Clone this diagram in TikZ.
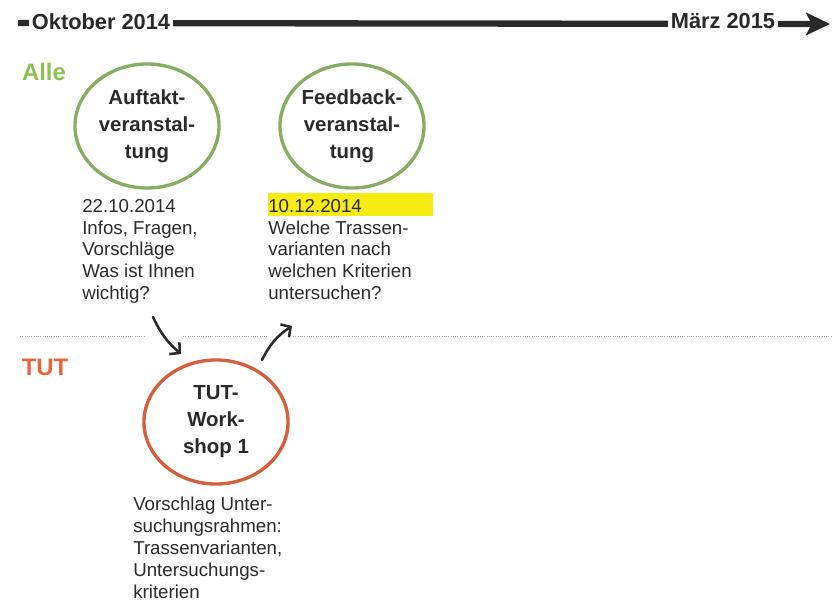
\documentclass[tikz,border=0pt]{standalone}
\usepackage{fontspec}
\setmainfont{Liberation Sans}
\usetikzlibrary{arrows.meta,shapes.geometric}
\definecolor{allegreen}{HTML}{8CC152}
\definecolor{ringgreen}{HTML}{86AE62}
\definecolor{tutred}{HTML}{E8643C}
\definecolor{ringred}{HTML}{D45F3C}
\definecolor{hlyellow}{HTML}{F6EC14}
\definecolor{pen}{HTML}{2A2A2A}
\tikzset{
  ring/.style={ellipse, draw=#1, line width=2.4pt, inner sep=0pt,
    minimum width=3.6cm, minimum height=3.1cm, align=center,
    font=\fontsize{14.5}{19.2}\selectfont\bfseries, text=pen},
  info/.style={anchor=north west, inner sep=0pt, align=left,
    font=\fontsize{13.3}{15.5}\selectfont, text=pen},
  teamlabel/.style={font=\fontsize{17}{20}\selectfont\bfseries, text=#1},
  datelabel/.style={fill=white, inner sep=2pt,
    font=\fontsize{15.5}{18}\selectfont\bfseries, text=pen},
  sketch/.style={draw=pen, line width=1.8pt, line cap=round,
    -{Straight Barb[length=5pt,width=11pt]}}
}

\begin{document}
\begin{tikzpicture}[x=0.025cm, y=-0.025cm]
			%%%%% START %%%%%
			\useasboundingbox (0,0) rectangle (832,602);
			
			% timeline
			\coordinate (tstart) at (18,23);
			\coordinate (tend) at (830,24);
			\draw[pen, line width=4.5pt, -{Stealth[length=17pt,width=16pt,inset=4pt]}] (tstart) -- (tend);
			\node[datelabel] (okt) at (101,22) {Oktober 2014};
			\node[datelabel] (mrz) at (723,21) {März 2015};
			
			% groups
			\node[teamlabel=allegreen] (alle) at (44,72) {Alle};
			\node[teamlabel=tutred] (tut) at (45,367) {TUT};
			
			\foreach \a/\b in {20/146, 183/267, 293/832}
				\draw[gray!70, line width=0.6pt, densely dotted] (\a,336) -- (\b,336);
			
			% events
			\node[ring=ringgreen] (auftakt) at (147,126) {Auftakt-\\veranstal-\\tung};
			\node[ring=ringgreen] (feedback) at (352,126) {Feedback-\\veranstal-\\tung};
			\node[ring=ringred] (workshop) at (216,422) {TUT-\\Work-\\shop 1};
			
			\node[info] (info1) at (82,199) {22.10.2014\\Infos, Fragen,\\Vorschläge\\Was ist Ihnen\\wichtig?};
			\fill[hlyellow] (268,193) rectangle (433,216);
			\node[info] (info2) at (268,199) {10.12.2014\\Welche Trassen-\\varianten nach\\welchen Kriterien\\untersuchen?};
			\node[info] (info3) at (133,497) {Vorschlag Unter-\\suchungsrahmen:\\Trassenvarianten,\\Untersuchungs-\\kriterien};
			
			% arrows
			\coordinate (a1s) at (153,317);
			\coordinate (a1e) at (181,354);
			\draw[sketch] (a1s) to[bend right=12] (a1e);
			\coordinate (a2s) at (262,360);
			\coordinate (a2e) at (292,326);
			\draw[sketch] (a2s) to[bend left=15] (a2e);
			
			%%%%% END %%%%%
\end{tikzpicture}
\end{document}
